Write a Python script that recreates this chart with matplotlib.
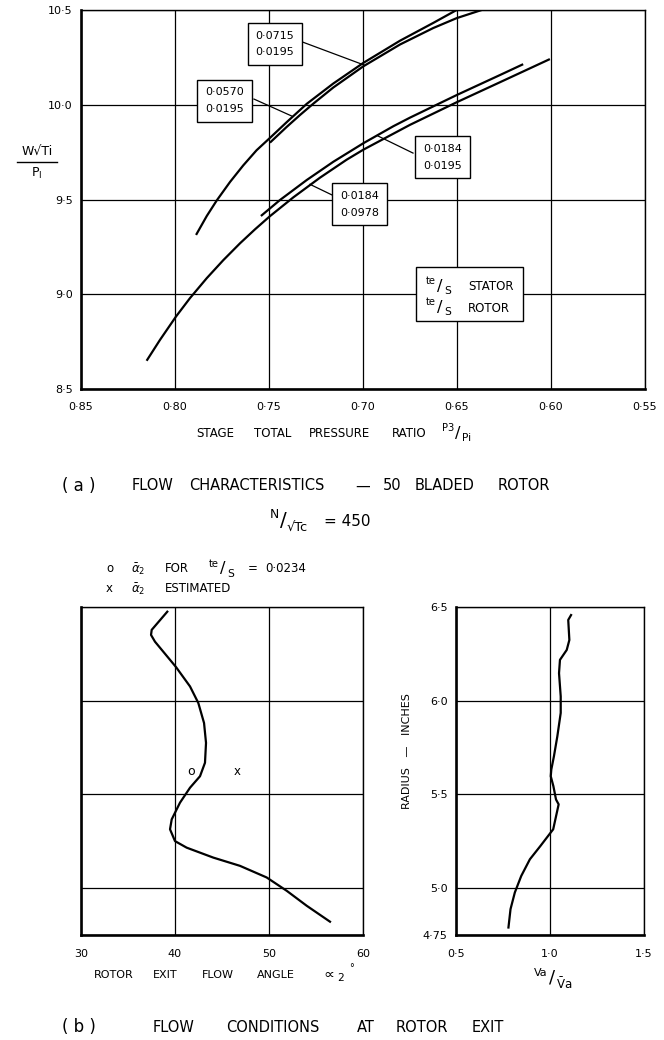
import matplotlib
matplotlib.use('Agg')
import matplotlib.pyplot as plt
from matplotlib.lines import Line2D
from matplotlib.patches import Rectangle

plt.rcParams['font.family'] = 'DejaVu Sans'
plt.rcParams['mathtext.fontset'] = 'dejavusans'

W, H = 664, 1040

# (a) stage total pressure ratio P3/P1 against W.sqrt(Ti)/P1
pr_a = [0.7888, 0.7831, 0.7778, 0.7707, 0.7637, 0.7566, 0.7495, 0.7406,
        0.7299, 0.7158, 0.6998, 0.6803, 0.6626, 0.6502]
fl_a = [9.313, 9.413, 9.495, 9.593, 9.680, 9.760, 9.825, 9.908,
        10.005, 10.112, 10.221, 10.338, 10.432, 10.5]

pr_b = [0.7495, 0.7406, 0.7335, 0.7264, 0.7158, 0.6998, 0.6803, 0.6626,
        0.6502, 0.6369]
fl_b = [9.800, 9.883, 9.946, 10.006, 10.091, 10.203, 10.318, 10.405,
        10.457, 10.5]

pr_c = [0.8151, 0.808, 0.7995, 0.792, 0.7831, 0.7743, 0.7654, 0.7574,
        0.7495, 0.7371, 0.7229, 0.7087, 0.6998, 0.675, 0.6502, 0.6271,
        0.6006]
fl_c = [8.649, 8.759, 8.882, 8.980, 9.085, 9.180, 9.269, 9.343,
        9.412, 9.511, 9.615, 9.710, 9.763, 9.894, 10.013, 10.119,
        10.241]

pr_d = [0.7543, 0.7442, 0.7299, 0.7158, 0.6998, 0.6838, 0.675, 0.6502,
        0.6271, 0.6148]
fl_d = [9.413, 9.497, 9.603, 9.699, 9.797, 9.887, 9.932, 10.051,
        10.157, 10.214]

# te/S stator, te/S rotor for each curve; box centre and leader line ends
box_text = ['0·0715\n0·0195', '0·0570\n0·0195', '0·0184\n0·0195', '0·0184\n0·0978']
box_xy = [(0.7468, 10.32), (0.7737, 10.022), (0.6577, 9.722), (0.7019, 9.474)]
lead_from = [(0.7319, 10.33), (0.758, 10.03), (0.6734, 9.745), (0.7165, 9.524)]
lead_to = [(0.6995, 10.21), (0.7378, 9.94), (0.692, 9.835), (0.7282, 9.58)]

pr_ticks = [0.85, 0.80, 0.75, 0.70, 0.65, 0.60, 0.55]
fl_ticks = [8.5, 9.0, 9.5, 10.0, 10.5]

# (b) conditions at rotor exit
ang = [39.18, 37.52, 37.45, 37.87, 40.1, 41.6, 42.48, 43.09, 43.3, 43.19,
       42.66, 41.6, 40.53, 39.65, 39.47, 40.0, 41.24, 44.07, 46.91, 49.75,
       51.88, 54.01, 56.49]
rad_ang = [6.475, 6.378, 6.351, 6.315, 6.18, 6.076, 5.988, 5.881, 5.775, 5.669,
           5.597, 5.536, 5.456, 5.367, 5.314, 5.251, 5.216, 5.163, 5.119, 5.057,
           4.986, 4.906, 4.821]
mean_meas = (41.7, 5.62)
mean_est = (46.56, 5.62)

va = [1.112, 1.097, 1.103, 1.089, 1.053, 1.048, 1.057, 1.057, 1.039, 1.021,
      1.007, 1.004, 1.018, 1.032, 1.046, 1.017, 0.949, 0.893, 0.847, 0.813,
      0.79, 0.779]
rad_va = [6.457, 6.431, 6.324, 6.271, 6.218, 6.147, 6.023, 5.935, 5.81, 5.704,
          5.633, 5.597, 5.544, 5.473, 5.447, 5.314, 5.225, 5.154, 5.065, 4.977,
          4.888, 4.79]

ang_ticks = [30, 40, 50, 60]
va_ticks = [0.5, 1.0, 1.5]
rad_ticks = [4.75, 5.0, 5.5, 6.0, 6.5]
rad_labels = ['4·75', '5·0', '5·5', '6·0', '6·5']


def rect(x0, y0, x1, y1):
    return [x0 / W, 1 - y1 / H, (x1 - x0) / W, (y1 - y0) / H]


def ftext(px, py, s, **kw):
    kw.setdefault('va', 'center')
    kw.setdefault('ha', 'left')
    fig.text(px / W, 1 - py / H, s, **kw)


def words(items, py, size):
    # lay out spaced-out words, each at its own left edge
    for px, s in items:
        ftext(px, py, s, fontsize=size)


def slash_frac(px, py, top, bot, size):
    # "top / bot" written with a long slanted stroke
    ftext(px, py, '/', fontsize=size * 1.3, ha='center')
    ftext(px - 4, py - size * 0.55, top, fontsize=size * 0.8, ha='right')
    ftext(px + 4, py + size * 0.6, bot, fontsize=size * 0.85)


def frame(ax, heavy=('left', 'bottom')):
    for side, sp in ax.spines.items():
        sp.set_color('black')
        sp.set_linewidth(1.9 if side in heavy else 1.0)
    ax.grid(True, color='black', lw=0.9)
    ax.set_axisbelow(True)
    ax.tick_params(length=0, labelsize=8)


fig = plt.figure(figsize=(W / 100, H / 100), dpi=100)

# ---- top chart
ax = fig.add_axes(rect(81, 10, 645, 389))
for xs, ys in [(pr_a, fl_a), (pr_b, fl_b), (pr_c, fl_c), (pr_d, fl_d)]:
    ax.plot(xs, ys, color='black', lw=1.6, solid_capstyle='butt')
ax.set_xlim(0.85, 0.55)
ax.set_ylim(8.5, 10.5)
ax.set_xticks(pr_ticks)
ax.set_xticklabels([f'{v:.2f}'.replace('.', '·') for v in pr_ticks])
ax.set_yticks(fl_ticks)
ax.set_yticklabels([f'{v:.1f}'.replace('.', '·') for v in fl_ticks])
ax.tick_params(axis='x', pad=9)
ax.tick_params(axis='y', pad=6)
frame(ax)

for t, c, a, b in zip(box_text, box_xy, lead_from, lead_to):
    ax.plot([a[0], b[0]], [a[1], b[1]], color='black', lw=0.9)
    ax.text(c[0], c[1], t, ha='center', va='center', fontsize=8,
            linespacing=1.8, zorder=5,
            bbox=dict(boxstyle='square,pad=0.7', fc='white', ec='black', lw=1.0))

# te/S key box
fig.add_artist(Rectangle((416 / W, 1 - 321 / H), 107 / W, 54 / H,
                         transform=fig.transFigure, fc='white', ec='black', lw=1.0))
for py, s in [(286, 'STATOR'), (307, 'ROTOR')]:
    slash_frac(440, py, 'te', 'S', 9)
    ftext(468, py + 1, s, fontsize=8.5)

# y label W sqrt(Ti) / P1
ftext(37, 151, 'W√Ti', fontsize=9, ha='center')
fig.add_artist(Line2D([17 / W, 57 / W], [1 - 162 / H, 1 - 162 / H],
                      transform=fig.transFigure, color='black', lw=1.0))
ftext(37, 173, r'$\mathrm{P_I}$', fontsize=9, ha='center')

words([(196, 'STAGE'), (254, 'TOTAL'), (309, 'PRESSURE'), (392, 'RATIO')], 433, 8.5)
slash_frac(458, 433, 'P3', 'Pi', 9)

ftext(62, 486, '( a )', fontsize=12)
words([(132, 'FLOW'), (189, 'CHARACTERISTICS'), (355, '—'), (383, '50'),
       (415, 'BLADED'), (498, 'ROTOR')], 486, 10.5)

slash_frac(283, 521, 'N', '√Tc', 11)
ftext(324, 522, '= 450', fontsize=11)

words([(106, 'o'), (131, r'$\bar{\alpha}_2$'), (165, 'FOR'), (248, '='), (265, '0·0234')],
      569, 8.5)
slash_frac(223, 569, 'te', 'S', 9)
words([(106, 'x'), (131, r'$\bar{\alpha}_2$'), (165, 'ESTIMATED')], 589, 8.5)

# ---- bottom left: exit flow angle against radius
bl = fig.add_axes(rect(81, 607, 363, 935))
bl.plot(ang, rad_ang, color='black', lw=1.6)
bl.text(mean_meas[0], mean_meas[1], 'o', ha='center', va='center', fontsize=9)
bl.text(mean_est[0], mean_est[1], 'x', ha='center', va='center', fontsize=8.5)
bl.set_xlim(30, 60)
bl.set_ylim(4.75, 6.5)
bl.set_xticks(ang_ticks)
bl.set_yticks(rad_ticks)
bl.set_yticklabels([])
bl.tick_params(axis='x', pad=10)
frame(bl)
words([(94, 'ROTOR'), (153, 'EXIT'), (202, 'FLOW'), (257, 'ANGLE')], 975, 8)
ftext(321, 976, r'$\propto_2$', fontsize=11)
ftext(349, 968, '°', fontsize=7)

# ---- bottom right: axial velocity ratio against radius
br = fig.add_axes(rect(456, 607, 644, 935))
br.plot(va, rad_va, color='black', lw=1.6)
br.set_xlim(0.5, 1.5)
br.set_ylim(4.75, 6.5)
br.set_xticks(va_ticks)
br.set_xticklabels([f'{v:.1f}'.replace('.', '·') for v in va_ticks])
br.set_yticks(rad_ticks)
br.set_yticklabels(rad_labels)
br.tick_params(axis='x', pad=10)
br.tick_params(axis='y', pad=6)
frame(br)
ftext(407, 751, 'RADIUS   —   INCHES', rotation=90, ha='center', fontsize=8)
slash_frac(552, 978, 'Va', r'$\bar{\mathrm{V}}\mathrm{a}$', 10)

ftext(62, 1027, '( b )', fontsize=12)
words([(153, 'FLOW'), (226, 'CONDITIONS'), (357, 'AT'), (396, 'ROTOR'),
       (472, 'EXIT')], 1027, 10.5)

fig.savefig('out.png', dpi=100)
